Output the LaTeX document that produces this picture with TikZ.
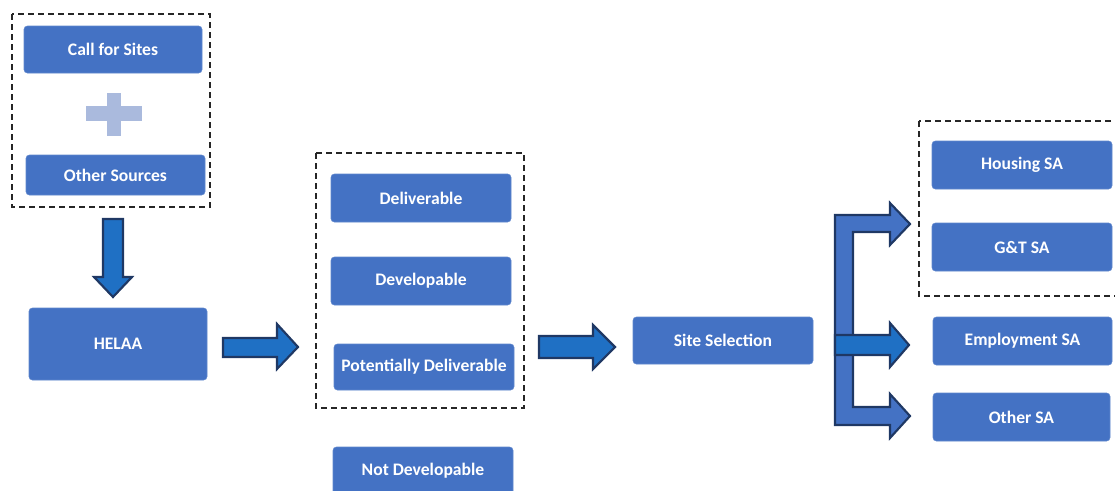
\documentclass[tikz,border=0pt]{standalone}
\usepackage{fontspec}
\setmainfont{Carlito}
\definecolor{boxblue}{HTML}{4472C4}
\definecolor{arrblue}{HTML}{1F70C4}
\definecolor{navy}{HTML}{1F3864}
\definecolor{plusc}{HTML}{AABADD}
\begin{document}
\begin{tikzpicture}[x=0.75pt,y=-0.75pt,
  box/.style={fill=boxblue,draw=boxblue!85!white,line width=0.4pt,rounded corners=2.5pt,
    text=white,font=\bfseries\fontsize{13.2}{15}\selectfont,inner sep=0pt},
  wh/.style 2 args={minimum width=#1*0.75pt,minimum height=#2*0.75pt},
  dbox/.style={draw=black!85,line width=1.1pt,dash pattern=on 4.5pt off 3pt},
  barrow/.style={fill=arrblue,draw=navy,line width=1.6pt,line join=miter},
  bracket/.style={fill=boxblue,draw=navy,line width=1.6pt,line join=miter}]
\useasboundingbox (0,0) rectangle (1115,490);
\clip (0,0) rectangle (1115,490);
% dashed groups
\draw[dbox] (12,14) rectangle (210,207);
\draw[dbox] (316,153) rectangle (524,408);
\draw[dbox] (919,121) rectangle (1130,296);
% boxes
\node[box,wh={178}{47}] (cfs) at (113,49.5) {Call for Sites};
\node[box,wh={179}{40}] (oth) at (115.5,175) {Other Sources};
\node[box,wh={178}{72}] (helaa) at (118,344) {HELAA};
\node[box,wh={180}{48}] (deliv) at (421,198) {Deliverable};
\node[box,wh={180}{48}] (devel) at (421,281) {Developable};
\node[box,wh={180}{46}] (potd) at (424,367) {Potentially Deliverable};
\node[box,wh={180}{48}] (notd) at (423,471) {Not Developable};
\node[box,wh={180}{47}] (site) at (723,340.5) {Site Selection};
\node[box,wh={180}{48}] (hous) at (1022,165) {Housing SA};
\node[box,wh={180}{48}] (gt) at (1022,247) {G\&T SA};
\node[box,wh={179}{48}] (emp) at (1022.5,341) {Employment SA};
\node[box,wh={177}{48}] (osa) at (1021.5,417) {Other SA};
% plus sign
\fill[plusc] (86,106) rectangle (142,121);
\fill[plusc] (107,93) rectangle (121,136);
% down arrow
\draw[barrow] (103,219) -- (123,219) -- (123,277) -- (132,277) -- (113,297) -- (94,277) -- (103,277) -- cycle;
% right arrow 1
\draw[barrow] (223,338) -- (277,338) -- (277,324) -- (298,347) -- (277,369) -- (277,357) -- (223,357) -- cycle;
% right arrow 2
\draw[barrow] (539,336) -- (593,336) -- (593,325) -- (615,347) -- (593,369) -- (593,358) -- (539,358) -- cycle;
% bracket arrow
\draw[bracket] (835,215) -- (890,215) -- (890,203) -- (910,224) -- (890,245) -- (890,232)
  -- (853,232) -- (853,407) -- (890,407) -- (890,394) -- (910,416) -- (890,438) -- (890,425)
  -- (835,425) -- cycle;
% middle arrow
\draw[barrow] (835,335) -- (890,335) -- (890,323) -- (909,345) -- (890,367) -- (890,355) -- (835,355) -- cycle;
\end{tikzpicture}
\end{document}
